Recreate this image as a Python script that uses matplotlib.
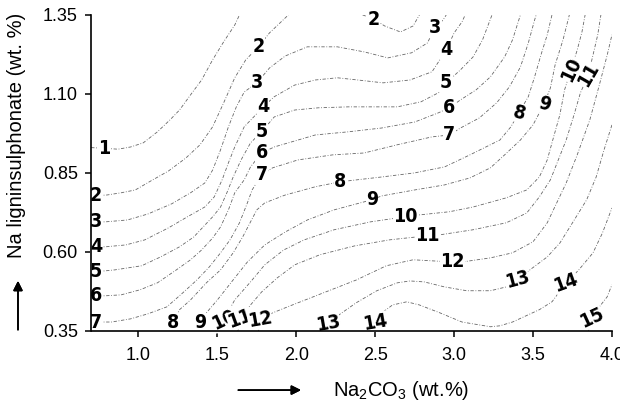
import matplotlib
matplotlib.use('Agg')
import matplotlib.pyplot as plt

plt.rcParams['font.family'] = ['Liberation Sans', 'DejaVu Sans']
plt.rcParams['mathtext.default'] = 'regular'

# contour lines: (Na2CO3 wt.%, Na ligninsulphonate wt.%)
c1 = [(0.70, 0.930), (0.78, 0.928), (0.87, 0.925), (0.95, 0.932), (1.03, 0.945), (1.12, 0.980),
      (1.20, 1.018), (1.26, 1.049), (1.33, 1.097), (1.40, 1.144), (1.47, 1.208), (1.54, 1.265),
      (1.61, 1.318), (1.64, 1.350)]
c2 = [(0.70, 0.777), (0.73, 0.778), (0.80, 0.780), (0.89, 0.787), (0.98, 0.796), (1.08, 0.825),
      (1.19, 0.856), (1.30, 0.897), (1.39, 0.939), (1.47, 0.996), (1.54, 1.072), (1.61, 1.151),
      (1.68, 1.208), (1.76, 1.249), (1.83, 1.293), (1.95, 1.350)]
c2_top = [(2.42, 1.350), (2.49, 1.337), (2.56, 1.315), (2.66, 1.296), (2.74, 1.315), (2.78, 1.350)]
c3 = [(0.70, 0.695), (0.73, 0.695), (0.79, 0.695), (0.93, 0.701), (1.06, 0.720), (1.21, 0.752),
      (1.33, 0.787), (1.42, 0.818), (1.47, 0.859), (1.52, 0.923), (1.57, 0.996), (1.62, 1.059),
      (1.67, 1.106), (1.75, 1.135), (1.83, 1.182), (1.93, 1.220), (2.07, 1.249), (2.26, 1.249),
      (2.43, 1.233), (2.58, 1.214), (2.73, 1.230), (2.83, 1.261), (2.88, 1.309), (2.93, 1.334),
      (2.95, 1.350)]
c4 = [(0.70, 0.616), (0.73, 0.616), (0.79, 0.616), (0.92, 0.622), (1.04, 0.638), (1.19, 0.676),
      (1.31, 0.711), (1.42, 0.742), (1.48, 0.774), (1.53, 0.828), (1.57, 0.882), (1.61, 0.932),
      (1.67, 0.996), (1.73, 1.027), (1.79, 1.059), (1.86, 1.091), (1.99, 1.128), (2.12, 1.144),
      (2.26, 1.151), (2.39, 1.144), (2.55, 1.135), (2.72, 1.144), (2.86, 1.170), (2.95, 1.239),
      (3.00, 1.293), (3.05, 1.328), (3.07, 1.350)]
c5 = [(0.70, 0.537), (0.73, 0.537), (0.85, 0.543), (1.02, 0.556), (1.14, 0.584), (1.26, 0.616),
      (1.35, 0.647), (1.41, 0.679), (1.47, 0.711), (1.52, 0.742), (1.56, 0.787), (1.60, 0.837),
      (1.65, 0.891), (1.71, 0.945), (1.78, 0.980), (1.86, 1.027), (1.99, 1.049), (2.14, 1.056),
      (2.33, 1.059), (2.50, 1.059), (2.64, 1.059), (2.79, 1.075), (2.91, 1.106), (2.95, 1.135),
      (3.04, 1.176), (3.12, 1.217), (3.18, 1.271), (3.24, 1.350)]
c6 = [(0.70, 0.461), (0.73, 0.461), (0.79, 0.461), (0.89, 0.464), (1.01, 0.480), (1.12, 0.502),
      (1.24, 0.543), (1.33, 0.575), (1.40, 0.606), (1.47, 0.644), (1.52, 0.679), (1.57, 0.733),
      (1.61, 0.787), (1.67, 0.828), (1.71, 0.869), (1.78, 0.913), (1.86, 0.932), (2.12, 0.970),
      (2.33, 0.980), (2.54, 0.992), (2.75, 1.011), (2.90, 1.040), (2.97, 1.056), (3.04, 1.081),
      (3.14, 1.113), (3.23, 1.154), (3.32, 1.217), (3.37, 1.271), (3.42, 1.350)]
c7 = [(0.70, 0.378), (0.73, 0.378), (0.83, 0.378), (0.95, 0.388), (1.06, 0.404), (1.18, 0.426),
      (1.28, 0.470), (1.37, 0.511), (1.45, 0.553), (1.52, 0.597), (1.58, 0.638), (1.64, 0.692),
      (1.69, 0.755), (1.72, 0.796), (1.78, 0.844), (1.85, 0.866), (2.01, 0.891), (2.23, 0.907),
      (2.43, 0.913), (2.64, 0.939), (2.86, 0.964), (2.97, 0.970), (3.04, 0.992), (3.16, 1.024),
      (3.27, 1.072), (3.35, 1.122), (3.42, 1.185), (3.47, 1.261), (3.51, 1.334), (3.52, 1.350)]
c8 = [(1.21, 0.350), (1.22, 0.375), (1.26, 0.417), (1.33, 0.448), (1.43, 0.502), (1.52, 0.543),
      (1.60, 0.597), (1.66, 0.647), (1.71, 0.695), (1.75, 0.733), (1.80, 0.755), (1.93, 0.780),
      (2.12, 0.806), (2.28, 0.822), (2.54, 0.837), (2.75, 0.850), (2.94, 0.869), (3.10, 0.907),
      (3.29, 0.954), (3.36, 0.996), (3.41, 1.040), (3.47, 1.091), (3.51, 1.154), (3.55, 1.223),
      (3.59, 1.287), (3.62, 1.350)]
c9 = [(1.38, 0.350), (1.39, 0.375), (1.43, 0.407), (1.50, 0.448), (1.59, 0.505), (1.69, 0.568),
      (1.80, 0.622), (1.93, 0.663), (2.07, 0.701), (2.24, 0.733), (2.48, 0.765), (2.54, 0.777),
      (2.75, 0.796), (2.94, 0.812), (3.10, 0.834), (3.23, 0.866), (3.32, 0.907), (3.42, 0.954),
      (3.50, 1.002), (3.57, 1.068), (3.61, 1.119), (3.64, 1.192), (3.69, 1.271), (3.73, 1.350)]
c10 = [(1.53, 0.350), (1.54, 0.385), (1.61, 0.448), (1.71, 0.505), (1.80, 0.559), (1.92, 0.606),
       (2.05, 0.638), (2.24, 0.670), (2.47, 0.695), (2.69, 0.711), (2.78, 0.717), (2.97, 0.727),
       (3.12, 0.742), (3.33, 0.771), (3.46, 0.796), (3.54, 0.837), (3.59, 0.891), (3.62, 0.945),
       (3.67, 1.034), (3.70, 1.113), (3.74, 1.176), (3.78, 1.239), (3.81, 1.296), (3.83, 1.350)]
c11 = [(1.63, 0.350), (1.64, 0.388), (1.71, 0.432), (1.78, 0.473), (1.88, 0.518), (1.99, 0.559),
       (2.15, 0.591), (2.37, 0.619), (2.59, 0.638), (2.83, 0.651), (2.91, 0.654), (3.12, 0.670),
       (3.33, 0.692), (3.46, 0.723), (3.54, 0.774), (3.61, 0.828), (3.66, 0.891), (3.71, 0.954),
       (3.76, 1.034), (3.80, 1.103), (3.85, 1.160), (3.88, 1.223), (3.91, 1.287), (3.93, 1.350)]
c12 = [(1.76, 0.350), (1.77, 0.385), (1.85, 0.407), (1.96, 0.429), (2.17, 0.470), (2.38, 0.511),
       (2.57, 0.556), (2.74, 0.575), (2.99, 0.568), (3.05, 0.568), (3.23, 0.581), (3.37, 0.597),
       (3.50, 0.632), (3.59, 0.692), (3.65, 0.755), (3.71, 0.818), (3.78, 0.907), (3.86, 1.018),
       (3.92, 1.128), (3.97, 1.223), (4.00, 1.287)]
c13 = [(2.16, 0.350), (2.20, 0.375), (2.26, 0.397), (2.38, 0.439), (2.51, 0.477), (2.64, 0.502),
       (2.72, 0.508), (2.81, 0.505), (2.94, 0.489), (3.08, 0.477), (3.23, 0.477), (3.33, 0.489),
       (3.40, 0.511), (3.48, 0.543), (3.59, 0.584), (3.67, 0.628), (3.75, 0.692), (3.84, 0.765),
       (3.90, 0.837), (3.95, 0.923), (4.00, 1.002)]
c14 = [(2.48, 0.350), (2.50, 0.378), (2.55, 0.410), (2.61, 0.432), (2.70, 0.442), (2.78, 0.432),
       (2.91, 0.407), (3.05, 0.378), (3.23, 0.363), (3.29, 0.366), (3.37, 0.378), (3.54, 0.417),
       (3.62, 0.442), (3.71, 0.502), (3.79, 0.543), (3.88, 0.597), (3.94, 0.660), (4.00, 0.739)]
c15 = [(3.85, 0.350), (3.87, 0.391), (3.92, 0.426), (3.97, 0.458), (4.00, 0.496)]

contours = [(1, c1), (2, c2), (2, c2_top), (3, c3), (4, c4), (5, c5), (6, c6), (7, c7), (8, c8),
            (9, c9), (10, c10), (11, c11), (12, c12), (13, c13), (14, c14), (15, c15)]

# which vertex of which line carries a level label, and its tilt
label_spots = [(c1, 1, 0), (c2, 1, 0), (c2, 13, 0), (c2_top, 1, 0),
               (c3, 1, 0), (c3, 13, 0), (c3, 22, 0),
               (c4, 1, 0), (c4, 14, 0), (c4, 23, 0),
               (c5, 1, 0), (c5, 14, 0), (c5, 23, 0),
               (c6, 1, 0), (c6, 15, 0), (c6, 22, 0),
               (c7, 1, 0), (c7, 14, 0), (c7, 21, 0),
               (c8, 1, 0), (c8, 13, 0), (c8, 20, -15),
               (c9, 1, 0), (c9, 10, 0), (c9, 19, -15),
               (c10, 1, 25), (c10, 9, 0), (c10, 20, 65),
               (c11, 1, 20), (c11, 9, 0), (c11, 20, 60),
               (c12, 1, 10), (c12, 8, 0),
               (c13, 1, 10), (c13, 12, 15),
               (c14, 1, 10), (c14, 13, 20),
               (c15, 1, 25)]

x_ticks = [1.0, 1.5, 2.0, 2.5, 3.0, 3.5, 4.0]
y_ticks = [0.35, 0.60, 0.85, 1.10, 1.35]

fig = plt.figure(figsize=(6.2, 4.03), dpi=100)
ax = fig.add_axes([0.147, 0.179, 0.840, 0.784])

for lev, pts in contours:
    xs = [p[0] for p in pts]
    ys = [p[1] for p in pts]
    ax.plot(xs, ys, color='0.4', lw=0.6, ls=(0, (4, 2, 1, 2)))

level_of = {id(pts): lev for lev, pts in contours}
for pts, i, rot in label_spots:
    ax.text(pts[i][0], pts[i][1], str(level_of[id(pts)]), ha='center', va='center',
            rotation=rot, fontsize=14, family='DejaVu Sans', fontstretch='condensed',
            fontweight='bold',
            bbox=dict(facecolor='white', edgecolor='none', pad=0.1), zorder=3, clip_on=False)

ax.set_xlim(0.7, 4.0)
ax.set_ylim(0.35, 1.35)
ax.set_xticks(x_ticks)
ax.set_xticklabels(['%.1f' % v for v in x_ticks])
ax.set_yticks(y_ticks)
ax.set_yticklabels(['%.2f' % v for v in y_ticks])
ax.spines['top'].set_visible(False)
ax.spines['right'].set_visible(False)
for s in ['left', 'bottom']:
    ax.spines[s].set_linewidth(1.2)
    ax.spines[s].set_zorder(4)
ax.tick_params(direction='out', length=4.5, width=1.1, labelsize=13)
ax.tick_params(axis='y', pad=5)
ax.tick_params(axis='x', pad=7)

fig.text(0.027, 0.665, 'Na ligninsulphonate (wt. %)', rotation=90, ha='center', va='center',
         fontsize=14.5)
fig.text(0.647, 0.032, r'Na$_2$CO$_3$ (wt.%)', ha='center', va='center', fontsize=14.5)
fig.add_artist(plt.annotate('', xy=(0.029, 0.31), xytext=(0.029, 0.175),
                            xycoords='figure fraction',
                            arrowprops=dict(arrowstyle='-|>', color='black', lw=1.2,
                                            mutation_scale=14)))
fig.add_artist(plt.annotate('', xy=(0.49, 0.032), xytext=(0.38, 0.032),
                            xycoords='figure fraction',
                            arrowprops=dict(arrowstyle='-|>', color='black', lw=1.2,
                                            mutation_scale=14)))

fig.savefig('out.png', dpi=100)
